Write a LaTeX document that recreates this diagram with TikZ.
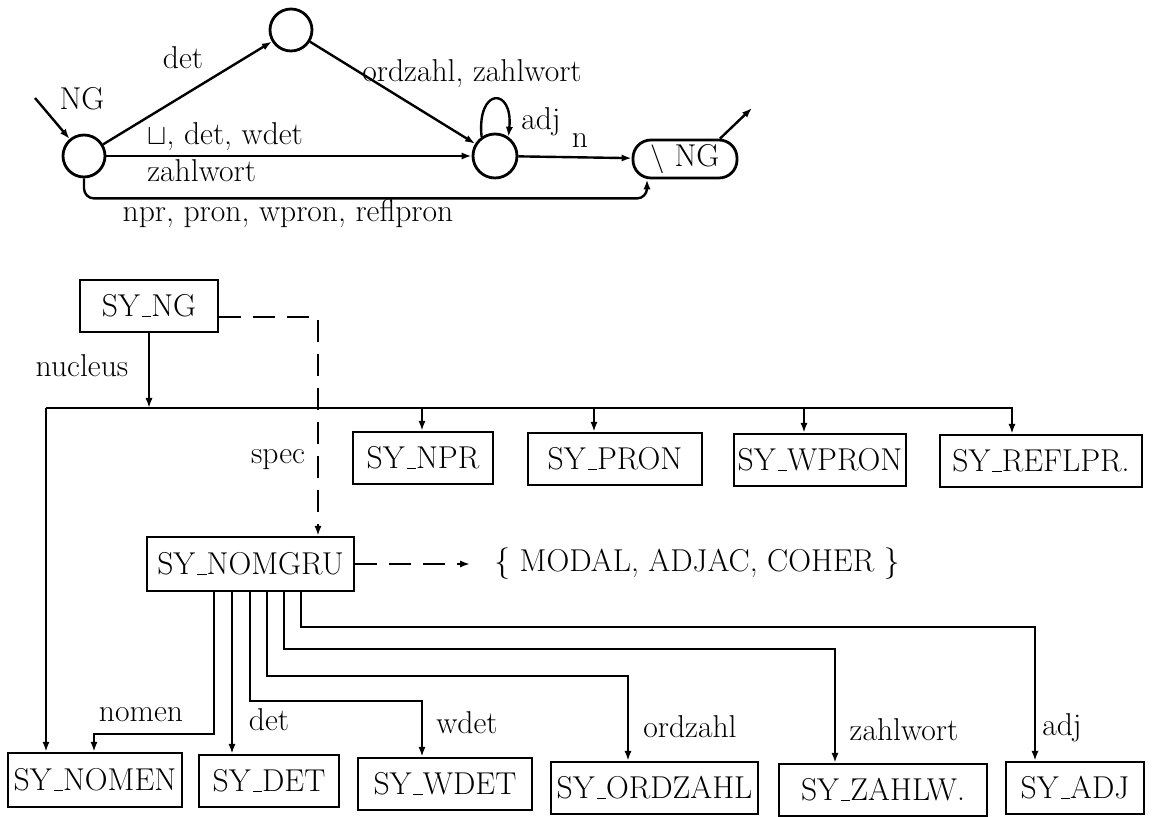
\documentclass[tikz,border=0pt]{standalone}
\usetikzlibrary{arrows.meta}
\newcommand{\ulin}{\leavevmode\kern.06em\vbox{\hrule width.3em height .5pt}}
\begin{document}
\begin{tikzpicture}[x=0.5pt,y=-0.5pt,
  every node/.style={font=\fontsize{15.8}{18}\selectfont},
  ln/.style={line width=1.2pt},
  arr/.style={ln,-{Latex[length=5pt,width=3.6pt]}},
  dsh/.style={dash pattern=on 11pt off 6pt},
  box/.style={draw,line width=1.2pt,inner sep=0pt,minimum height=26pt},
  st/.style={draw,circle,line width=1.4pt,minimum size=21pt,inner sep=0pt},
  lab/.style={inner sep=1pt}]
\useasboundingbox (0,0) rectangle (1158,817);

% ---------- automaton ----------
\node[st] (s0) at (84,156) {};
\node[st] (s1) at (291,30) {};
\node[st,minimum size=22pt] (s2) at (495,156) {};
\node[draw,line width=1.4pt,rounded corners=9pt,minimum width=52pt,minimum height=19pt,inner sep=0pt] (sf) at (685,159) {$\backslash$\ NG};
\coordinate (in0) at (35,98);
\coordinate (out0) at (752,108);

\draw[arr] (in0) -- (s0);
\draw[arr] (s0) -- (s1);
\draw[arr] (s1) -- (s2);
\draw[arr] (s0) -- (s2);
\draw[arr] (s2.125) .. controls +(-5,-50) and +(5,-50) .. (s2.55);
\draw[arr] (s2) -- (sf);
\draw[arr] ([xshift=17.5pt]sf.north) -- (out0);
\draw[arr,rounded corners=5pt] (s0.south) -- ++(0,20) -| ([xshift=-19pt]sf.south);

\node[lab] (lNG) at (82,99) {NG};
\node[lab] (ldet) at (183,58) {det};
\node[lab] (lord) at (472,74) {ordzahl, zahlwort};
\node[lab,anchor=west] (ldir) at (145,137) {$\sqcup$, det, wdet};
\node[lab,anchor=west] (lzw) at (145,171) {zahlwort};
\node[lab] (lnpr) at (288,213) {npr, pron, wpron, reflpron};
\node[lab] (ladj) at (541,122) {adj};
\node[lab] (ln) at (580,141) {n};

% ---------- structure ----------
\node[box,minimum width=69pt] (syng) at (149,306) {SY\ulin NG};
\coordinate (busL) at (46,408);
\node[box,minimum width=70pt] (npr) at (423,458) {SY\ulin NPR};
\node[box,minimum width=87pt] (pron) at (615,459) {SY\ulin PRON};
\node[box,minimum width=86pt] (wpron) at (820,460) {SY\ulin WPRON};
\node[box,minimum width=101pt] (refl) at (1041,461) {SY\ulin REFLPR.};
\node[box,minimum width=103.5pt,minimum height=27pt] (nomgru) at (250.5,564) {SY\ulin NOMGRU};
\node[inner sep=2pt,anchor=west] (mset) at (490,564) {\{ MODAL, ADJAC, COHER \}};

\node[box,minimum width=87pt,minimum height=27pt] (nomen) at (95,780) {SY\ulin NOMEN};
\node[box,minimum width=70pt] (det) at (269,781) {SY\ulin DET};
\node[box,minimum width=87pt] (wdet) at (445,784) {SY\ulin WDET};
\node[box,minimum width=103.5pt] (ordz) at (654.5,788) {SY\ulin ORDZAHL};
\node[box,minimum width=104pt] (zahlw) at (883,790) {SY\ulin ZAHLW.};
\node[box,minimum width=69pt] (adjb) at (1075,788) {SY\ulin ADJ};

\coordinate (nprin) at ([xshift=-0.5pt]npr.north);
\coordinate (pronin) at ([xshift=-10.5pt]pron.north);
\coordinate (wpronin) at ([xshift=-8pt]wpron.north);
\coordinate (reflin) at ([xshift=-14.5pt]refl.north);
\coordinate (nomenA) at ([xshift=-24.5pt]nomen.north);

% nucleus
\draw[arr] (syng.south) -- (syng.south |- busL);
\draw[arr] (busL) -- (busL -| reflin) -- (reflin);
\draw[arr] (busL) -- (nomenA);
\draw[arr] (busL -| nprin) -- (nprin);
\draw[arr] (busL -| pronin) -- (pronin);
\draw[arr] (busL -| wpronin) -- (wpronin);

% spec
\draw[arr,dsh] ([yshift=-5.5pt]syng.east) -| ([xshift=33.75pt]nomgru.north);
\draw[arr,dsh] (nomgru.east) -- ([xshift=-10pt]mset.west);

% nomgru children
\draw[arr] ([xshift=-18.25pt]nomgru.south) -- ++(0,142) -| ([xshift=-0.5pt]nomen.north);
\draw[arr] ([xshift=-9.25pt]nomgru.south) -- ([xshift=-18.5pt]det.north);
\draw[arr] ([xshift=-0.25pt]nomgru.south) -- ++(0,109) -| ([xshift=-11.5pt]wdet.north);
\draw[arr] ([xshift=8.25pt]nomgru.south) -- ++(0,84) -| ([xshift=-13.25pt]ordz.north);
\draw[arr] ([xshift=16.75pt]nomgru.south) -- ++(0,57) -| ([xshift=-24pt]zahlw.north);
\draw[arr] ([xshift=25.25pt]nomgru.south) -- ++(0,35) -| ([xshift=-20pt]adjb.north);

\node[lab] (lnuc) at (82,366) {nucleus};
\node[lab] (lspec) at (278,460) {spec};
\node[lab] (lnomen) at (141,715) {nomen};
\node[lab] (ldet2) at (269,720) {det};
\node[lab] (lwdet) at (467,723) {wdet};
\node[lab] (lord2) at (690,727) {ordzahl};
\node[lab] (lzw2) at (904,730) {zahlwort};
\node[lab] (ladj2) at (1062,728) {adj};
\end{tikzpicture}
\end{document}
